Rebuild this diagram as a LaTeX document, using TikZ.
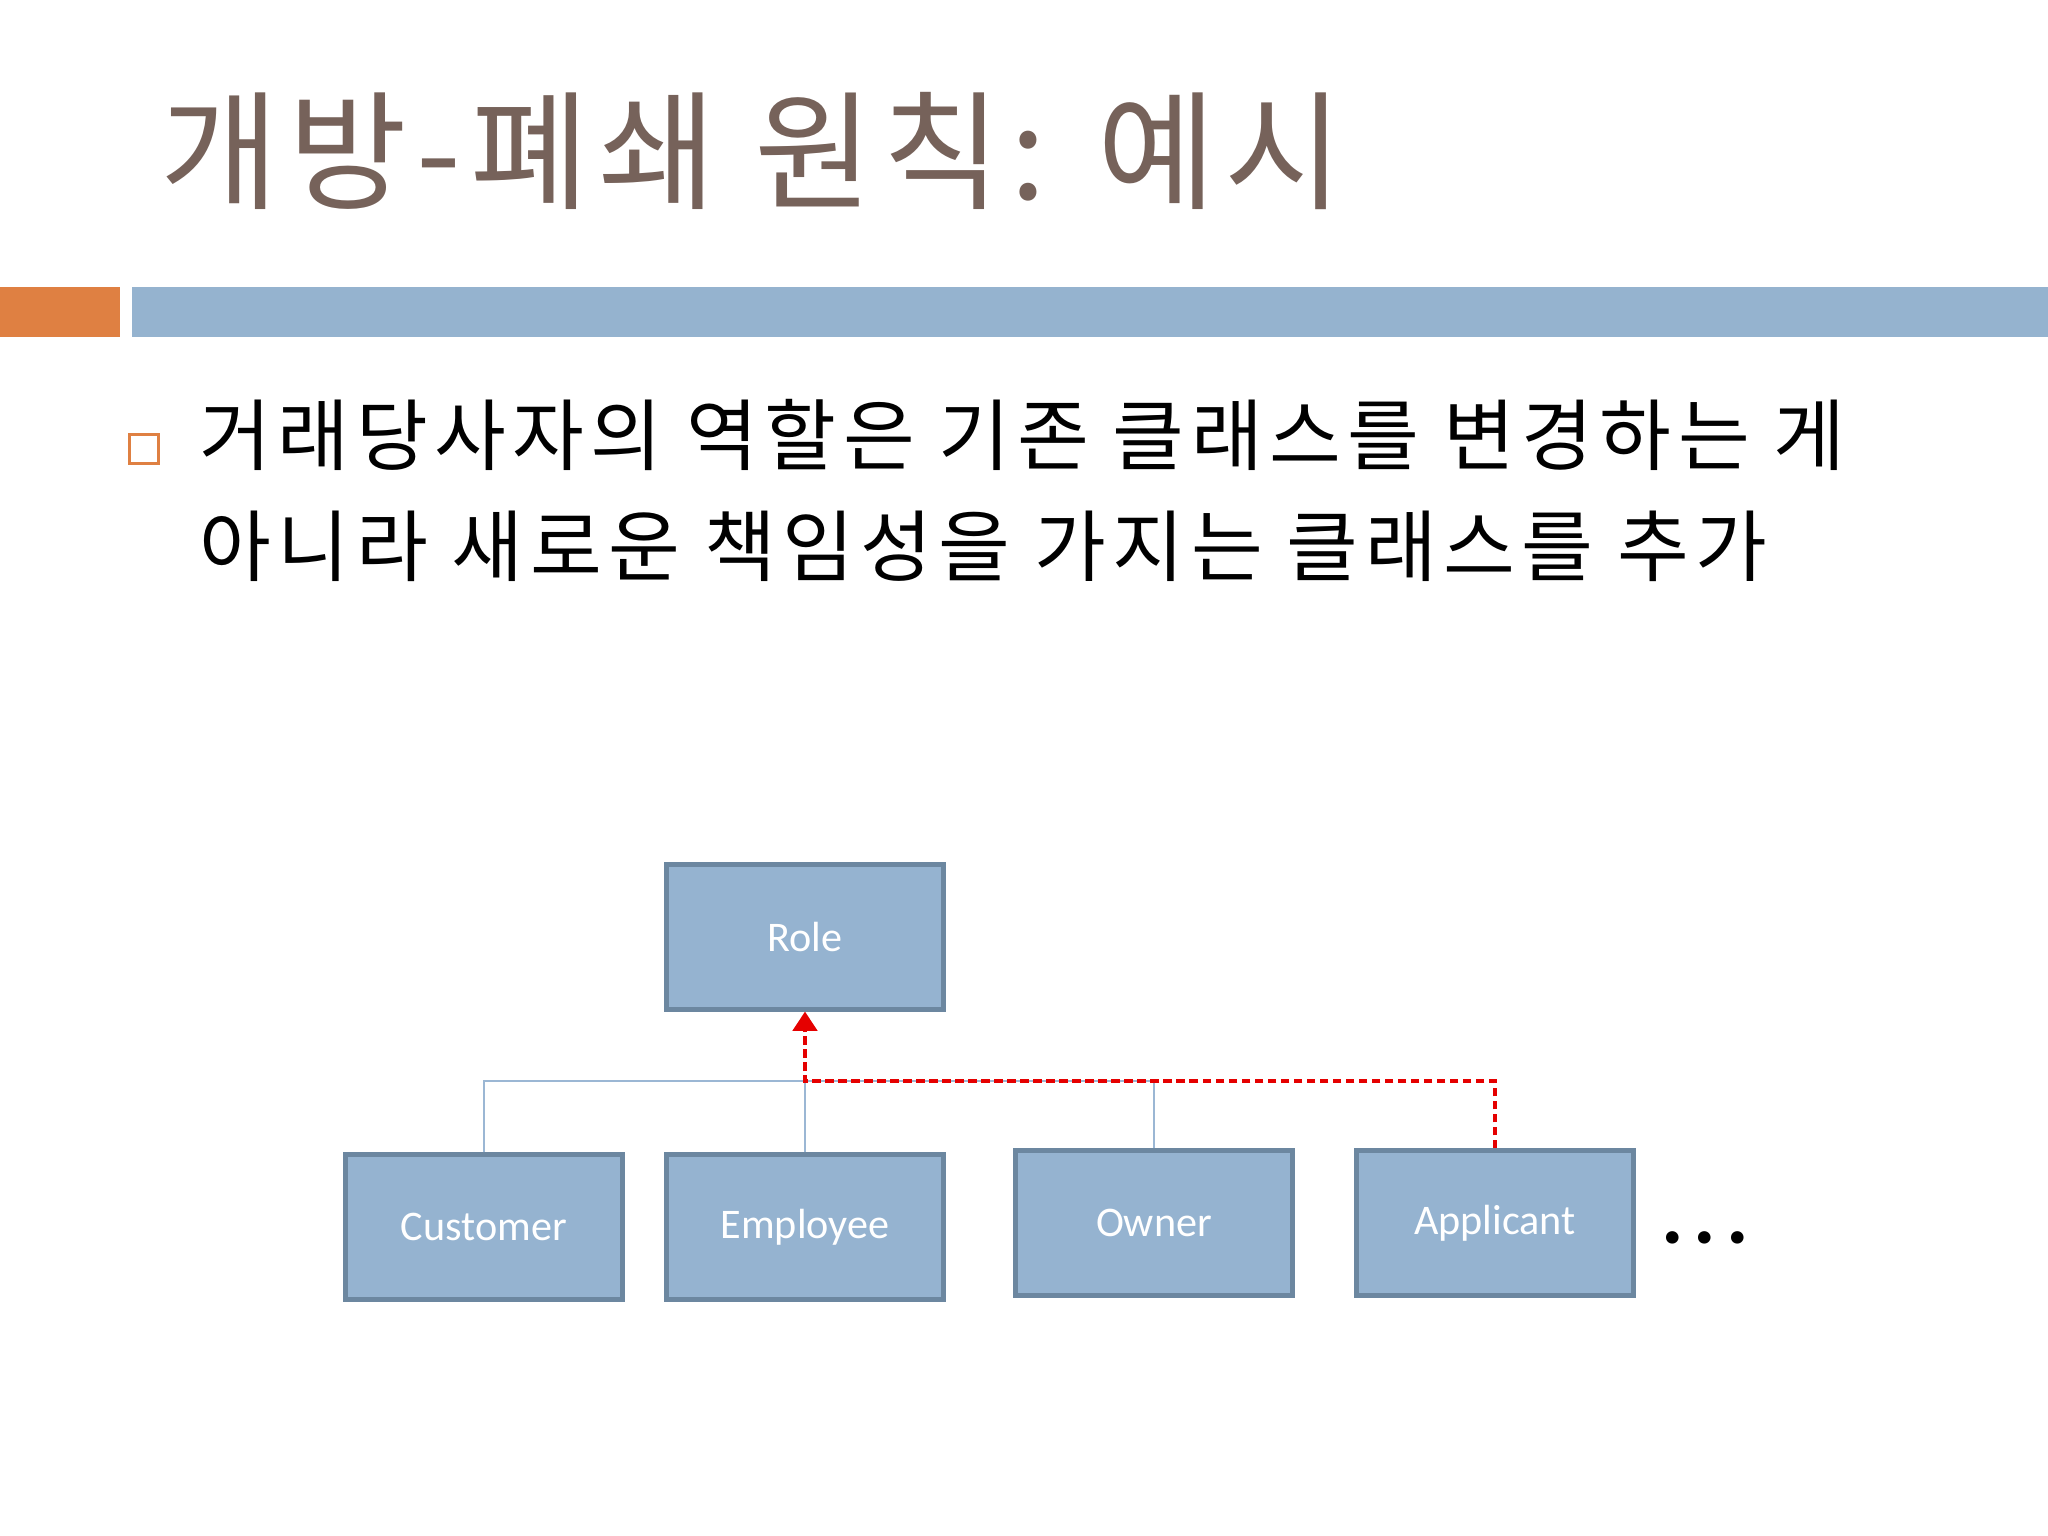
\documentclass[tikz,border=0pt]{standalone}
\usepackage{fontspec}
\setmainfont{Carlito}
\newfontfamily\krfont{Noto Sans CJK KR}
\usetikzlibrary{arrows.meta}
\definecolor{titlebrown}{RGB}{118,98,90}
\definecolor{accentorange}{RGB}{223,128,66}
\definecolor{barblue}{RGB}{149,179,207}
\definecolor{boxfill}{RGB}{149,179,208}
\definecolor{boxline}{RGB}{108,135,160}
\definecolor{linkblue}{RGB}{155,183,212}
\begin{document}
\begin{tikzpicture}[every node/.style={inner sep=0pt},
  cls/.style={draw=boxline,fill=boxfill,line width=1.2pt,minimum width=2.77cm,minimum height=1.45cm,text=white,font=\fontsize{12}{14}\selectfont},
  link/.style={draw=linkblue,line width=0.75pt},
  realize/.style={draw=red!90!black,line width=0.9pt,dash pattern=on 2.5pt off 1.2pt,-{Triangle[width=7pt,length=5.5pt]}}]
\useasboundingbox (0,0) rectangle (20.48,-15.36);
% header
\node[anchor=west,text=titlebrown,font=\krfont\fontsize{36.7}{40}\selectfont\addfontfeature{LetterSpace=7.1}] (title) at (1.60,-1.515) {개방-폐쇄 원칙: 예시};
\fill[accentorange] (0,-2.87) rectangle (1.20,-3.37);
\fill[barblue] (1.32,-2.87) rectangle (20.48,-3.37);
% bullet text
\node[draw=accentorange,line width=0.6pt,minimum size=0.29cm] (bullet) at (1.44,-4.49) {};
\node[anchor=west,font=\krfont\fontsize{22.2}{28}\selectfont\addfontfeature{LetterSpace=8.3}] (line1) at (1.99,-4.35) {거래당사자의 역할은 기존 클래스를 변경하는 게};
\node[anchor=west,font=\krfont\fontsize{22.2}{28}\selectfont\addfontfeature{LetterSpace=8.3}] (line2) at (1.99,-5.46) {아니라 새로운 책임성을 가지는 클래스를 추가};
% classes
\node[cls] (role) at (8.05,-9.37) {Role};
\node[cls] (cust) at (4.84,-12.27) {Customer};
\node[cls] (empl) at (8.05,-12.27) {Employee};
\node[cls] (owner) at (11.54,-12.23) {Owner};
\node[cls] (appl) at (14.95,-12.23) {Applicant};
\node[font=\bfseries\fontsize{24}{28}\selectfont\addfontfeature{LetterSpace=12}] (more) at (17.05,-12.38) {...};
\coordinate (bus) at (8.05,-10.81);
\draw[link] (cust.north) |- (bus) -| (owner.north);
\draw[link] (empl.north) -- (bus);
\draw[realize] (appl.north) |- (bus) -- (role.south);
\end{tikzpicture}
\end{document}
